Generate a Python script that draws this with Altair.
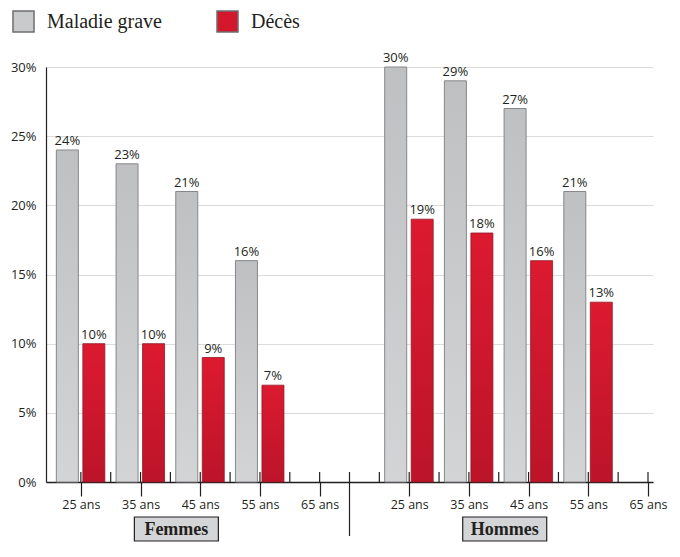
import altair as alt
import pandas as pd

# ---- data ----
ages = ["25 ans", "35 ans", "45 ans", "55 ans", "65 ans"]
groups = ["Femmes", "Hommes"]
series = ["Maladie grave", "Décès"]
maladie_femmes = [24, 23, 21, 16, None]
deces_femmes = [10, 10, 9, 7, None]
maladie_hommes = [30, 29, 27, 21, None]
deces_hommes = [19, 18, 16, 13, None]
y_ticks = [0, 5, 10, 15, 20, 25, 30]

values = {
    ("Femmes", "Maladie grave"): maladie_femmes,
    ("Femmes", "Décès"): deces_femmes,
    ("Hommes", "Maladie grave"): maladie_hommes,
    ("Hommes", "Décès"): deces_hommes,
}

n = len(ages)
group_step = n + 0.5
rows = []
for gi, g in enumerate(groups):
    for ai, a in enumerate(ages):
        pos = ai + gi * group_step
        for s in series:
            v = values[(g, s)][ai]
            rows.append(dict(group=g, age=a, series=s, pos=pos,
                             value=v, label=("" if v is None else f"{v}%")))
df = pd.DataFrame(rows)
bars_df = df.dropna(subset=["value"])
positions = sorted(df["pos"].unique().tolist())

# tick decorations derived from the category positions
fem_pos = [p for p in positions if p < n]
hom_pos = [p for p in positions if p >= n]
minor = [p + 0.5 for p in fem_pos[:-1]] + [p - 0.5 for p in hom_pos]
ticks_df = pd.DataFrame({"pos": positions + minor})
sep_df = pd.DataFrame({"pos": [n - 0.5]})
grp_df = pd.DataFrame({
    "group": groups,
    "pos": [sum(fem_pos) / len(fem_pos) - 0.4, sum(hom_pos) / len(hom_pos) - 0.4],
})

# ---- style ----
INK = "#231f20"
SANS = "Open Sans"
SERIF = "Liberation Serif"
W, H = 607, 415

gray_grad = alt.Gradient(
    gradient="linear",
    stops=[alt.GradientStop(color="#bfc0c2", offset=0),
           alt.GradientStop(color="#d3d4d6", offset=1)],
    x1=0, x2=0, y1=0, y2=1)
red_grad = alt.Gradient(
    gradient="linear",
    stops=[alt.GradientStop(color="#dc1a30", offset=0),
           alt.GradientStop(color="#bc1429", offset=1)],
    x1=0, x2=0, y1=0, y2=1)

labels_js = "[" + ",".join(f"'{a}'" for a in ages) + "]"
x_scale = alt.Scale(domain=[positions[0] - 0.5, positions[-1]], nice=False, zero=False)
y_scale = alt.Scale(domain=[y_ticks[0], y_ticks[-1]], nice=False)

x_axis = alt.Axis(
    values=positions,
    labelExpr=f"{labels_js}[datum.value > {n} ? round(datum.value - {group_step}) : round(datum.value)]",
    title=None, grid=False, domainColor=INK, domainWidth=1.5,
    tickColor=INK, tickSize=14, tickWidth=1.2, labelPadding=2,
    labelFont=SANS, labelFontSize=12.5, labelColor=INK, labelAngle=0)
y_axis = alt.Axis(
    values=y_ticks, labelExpr="datum.value + '%'", title=None,
    grid=True, gridColor="#dcdcdc", gridWidth=1, ticks=False,
    domainColor=INK, domainWidth=1.2, labelPadding=10,
    labelFont=SANS, labelFontSize=13, labelColor=INK)

x_enc = alt.X("pos:Q", scale=x_scale, axis=x_axis)
y_enc = alt.Y("value:Q", scale=y_scale, axis=y_axis)

base = alt.Chart(bars_df)

gray_bars = base.transform_filter(alt.datum.series == series[0]).mark_bar(
    width=22, xOffset=-13.5, color=gray_grad, stroke="#86878a", strokeWidth=1
).encode(x=x_enc, y=y_enc)

red_bars = base.transform_filter(alt.datum.series == series[1]).mark_bar(
    width=22, xOffset=13, color=red_grad, stroke="#8e1a26", strokeWidth=0.8
).encode(x=x_enc, y=y_enc)

gray_text = base.transform_filter(alt.datum.series == series[0]).mark_text(
    dx=-13.5, dy=-5, baseline="alphabetic", font=SANS, fontSize=13, color=INK
).encode(x=x_enc, y=y_enc, text="label:N")

red_text = base.transform_filter(alt.datum.series == series[1]).mark_text(
    dx=13, dy=-5, baseline="alphabetic", font=SANS, fontSize=13, color=INK
).encode(x=x_enc, y=y_enc, text="label:N")

legend_layer = base.mark_square(opacity=0, size=0).encode(
    x=x_enc, y=y_enc,
    color=alt.Color("series:N", title=None,
                    scale=alt.Scale(domain=series, range=["#c9cacc", "#d3182d"]),
                    legend=alt.Legend(
                        orient="none", legendX=-34, legendY=-57, direction="horizontal",
                        symbolType="square", symbolSize=441, symbolOpacity=1,
                        symbolStrokeColor="#6d6e70", symbolStrokeWidth=1.5,
                        labelFont=SERIF, labelFontSize=20, labelColor=INK,
                        labelOffset=12, columnPadding=52, labelLimit=300)))

up_ticks = alt.Chart(ticks_df).mark_rule(color=INK, strokeWidth=1.2).encode(
    x=alt.X("pos:Q", scale=x_scale, axis=x_axis),
    y=alt.value(H), y2=alt.value(H - 10))

separator = alt.Chart(sep_df).mark_rule(color=INK, strokeWidth=1.2).encode(
    x=alt.X("pos:Q", scale=x_scale, axis=x_axis),
    y=alt.value(H - 10), y2=alt.value(H + 54))

boxes = alt.Chart(grp_df).mark_rect(
    xOffset=-42, x2Offset=42, fill="#d4d5d7", stroke=INK, strokeWidth=1.2
).encode(x=alt.X("pos:Q", scale=x_scale, axis=x_axis), x2="pos:Q",
         y=alt.value(H + 35), y2=alt.value(H + 59))

box_text = alt.Chart(grp_df).mark_text(
    font=SERIF, fontWeight="bold", fontSize=18, color=INK, baseline="middle"
).encode(x=alt.X("pos:Q", scale=x_scale, axis=x_axis),
         y=alt.value(H + 47.5), text="group:N")

chart = alt.layer(
    gray_bars, red_bars, gray_text, red_text, legend_layer,
    up_ticks, separator, boxes, box_text
).properties(
    width=W, height=H,
    padding={"left": 38, "top": 59, "right": 19, "bottom": 61},
    autosize=alt.AutoSizeParams(type="none"),
).configure_view(stroke=None)

chart.save("out.html", embed_options={"renderer": "svg", "actions": False})
